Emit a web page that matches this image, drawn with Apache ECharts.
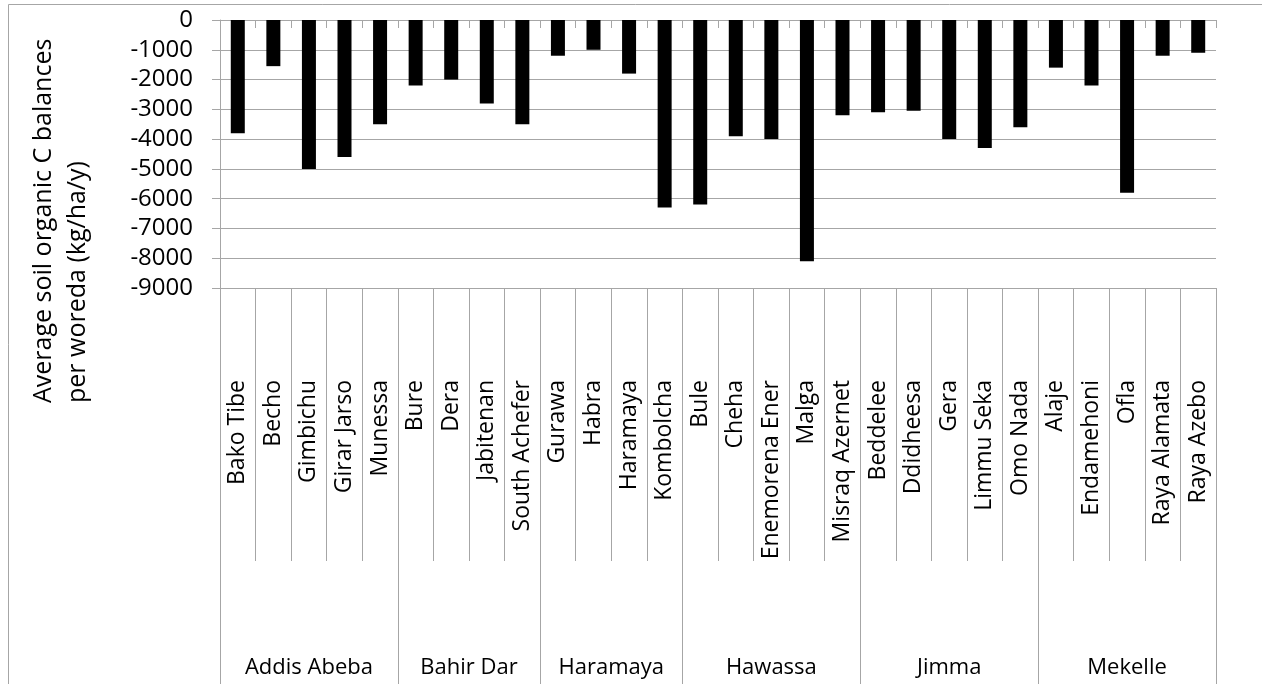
<!DOCTYPE html>
<html>
<head>
<meta charset="utf-8">
<script src="https://cdn.jsdelivr.net/npm/echarts@6/dist/echarts.min.js"></script>
<style>
  html, body { margin: 0; padding: 0; background: #fff; }
  #chart { width: 1262px; height: 684px; }
</style>
</head>
<body>
<div id="chart"></div>
<script>
const woredas = [
  'Bako Tibe', 'Becho', 'Gimbichu', 'Girar Jarso', 'Munessa',
  'Bure', 'Dera', 'Jabitenan', 'South Achefer',
  'Gurawa', 'Habra', 'Haramaya', 'Kombolcha',
  'Bule', 'Cheha', 'Enemorena Ener', 'Malga', 'Misraq Azernet',
  'Beddelee', 'Ddidheesa', 'Gera', 'Limmu Seka', 'Omo Nada',
  'Alaje', 'Endamehoni', 'Ofla', 'Raya Alamata', 'Raya Azebo'
];
const balances = [
  -3800, -1550, -5000, -4600, -3500,
  -2200, -2000, -2800, -3500,
  -1200, -1000, -1800, -6300,
  -6200, -3900, -4000, -8100, -3200,
  -3100, -3050, -4000, -4300, -3600,
  -1600, -2200, -5800, -1200, -1100
];
const groups = ['Addis Abeba', 'Bahir Dar', 'Haramaya', 'Hawassa', 'Jimma', 'Mekelle'];
const groupSizes = [5, 4, 4, 5, 5, 5];
const yMin = -9000, yMax = 0, yStep = 1000;
const yTitle = 'Average soil organic C balances\nper woreda (kg/ha/y)';

// group boundaries and centres in category units
const boundaries = [0];
const centers = [];
groupSizes.forEach(function (n) {
  const s = boundaries[boundaries.length - 1];
  centers.push(s + n / 2);
  boundaries.push(s + n);
});

const FONT = '"Open Sans", sans-serif';
const GRID = '#a6a6a6';

const chart = echarts.init(document.getElementById('chart'), null, { renderer: 'canvas' });
chart.setOption({
  animation: false,
  backgroundColor: '#fff',
  grid: { left: 220, top: 20, width: 996, height: 268, containLabel: false },
  xAxis: [
    {
      type: 'category', data: woredas, position: 'top',
      axisLine: { show: true, onZero: false, lineStyle: { color: GRID, width: 1 } },
      axisTick: { show: true, inside: true, length: 8, interval: 0, lineStyle: { color: GRID } },
      axisLabel: { show: false }, splitLine: { show: false }
    },
    {
      type: 'category', data: woredas, position: 'bottom',
      axisLine: { show: true, onZero: false, lineStyle: { color: GRID, width: 1 } },
      axisTick: { show: true, length: 273, interval: 0, lineStyle: { color: GRID } },
      axisLabel: {
        show: true, interval: 0, rotate: 90, margin: 92,
        fontFamily: FONT, fontSize: 23, color: '#000'
      },
      splitLine: { show: false }
    },
    {
      type: 'value', min: 0, max: woredas.length, position: 'bottom',
      axisLine: { show: false, onZero: false },
      axisTick: { show: true, length: 400, customValues: boundaries, lineStyle: { color: GRID } },
      axisLabel: {
        show: true, customValues: centers, margin: 380, verticalAlign: 'middle',
        fontFamily: FONT, fontSize: 22, color: '#000',
        formatter: function (v) {
          const i = centers.indexOf(v);
          return i >= 0 ? groups[i] : '';
        }
      },
      splitLine: { show: false }
    }
  ],
  yAxis: {
    type: 'value', min: yMin, max: yMax, interval: yStep,
    axisLine: { show: true, lineStyle: { color: GRID, width: 1 } },
    axisTick: { show: true, length: 8, lineStyle: { color: GRID } },
    axisLabel: {
      margin: 27, fontFamily: FONT, fontSize: 24, color: '#000',
      formatter: function (v) { return String(v); }
    },
    splitLine: { show: true, lineStyle: { color: GRID, width: 1 } }
  },
  series: [{
    type: 'bar', xAxisIndex: 1, yAxisIndex: 0,
    data: balances, barWidth: 14,
    itemStyle: { color: '#000' }
  }],
  graphic: [
    {
      type: 'rect', silent: true,
      shape: { x: 8.5, y: 4.5, width: 1400, height: 900 },
      style: { fill: 'none', stroke: GRID, lineWidth: 1 }
    },
    {
      type: 'text', silent: true,
      x: 27, y: 403, rotation: Math.PI / 2,
      style: {
        text: yTitle, fontFamily: FONT, fontSize: 25, fill: '#000',
        align: 'left', verticalAlign: 'top', lineHeight: 34
      }
    }
  ]
});
</script>
</body>
</html>
